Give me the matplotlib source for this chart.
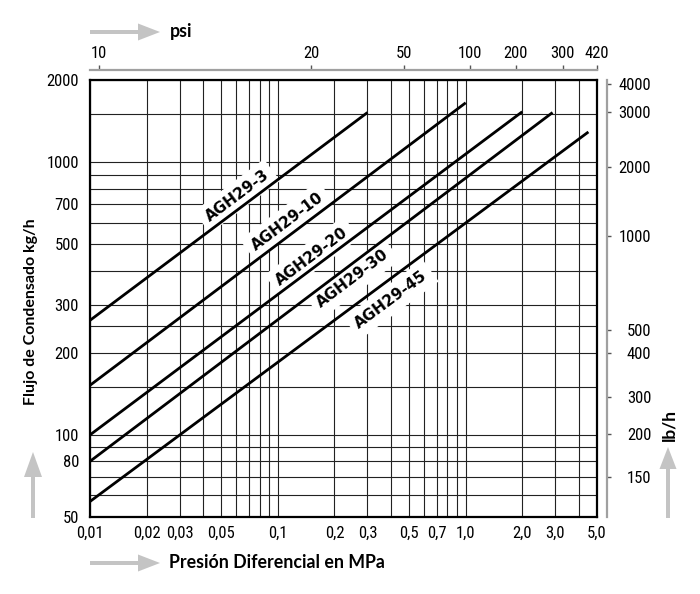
import numpy as np
import matplotlib
matplotlib.use('Agg')
from matplotlib import pyplot as plt
from matplotlib import font_manager
from matplotlib.font_manager import FontProperties
from matplotlib.patches import FancyArrow
from matplotlib.transforms import IdentityTransform
from matplotlib.ticker import FixedLocator, NullLocator, NullFormatter

# curves (straight lines on log-log paper)
models = ['AGH29-3', 'AGH29-10', 'AGH29-20', 'AGH29-30', 'AGH29-45']
p_start = [0.01, 0.01, 0.01, 0.01, 0.01]     # MPa
p_end = [0.3, 1.0, 2.0, 2.9, 4.5]             # MPa
q_start = [263, 152, 100, 80, 57]             # kg/h
q_end = [1520, 1650, 1530, 1520, 1290]        # kg/h

# where the curve names sit
label_p = [0.0606, 0.112, 0.152, 0.251, 0.401]
label_q = [750, 607, 451, 374, 313]

mpa_ticks = [0.01, 0.02, 0.03, 0.05, 0.1, 0.2, 0.3, 0.5, 0.7, 1.0, 2.0, 3.0, 5.0]
mpa_labels = ['0,01', '0,02', '0,03', '0,05', '0,1', '0,2', '0,3', '0,5', '0,7',
              '1,0', '2,0', '3,0', '5,0']
mpa_grid = [0.02, 0.03, 0.04, 0.05, 0.06, 0.07, 0.08, 0.09, 0.1,
            0.2, 0.3, 0.4, 0.5, 0.6, 0.7, 0.8, 0.9, 1.0, 2.0, 3.0, 4.0]
kgh_ticks = [50, 80, 100, 200, 300, 500, 700, 1000, 2000]
kgh_grid = [60, 70, 80, 90, 100, 150, 200, 250, 300, 400, 500, 600, 700,
            800, 900, 1000, 1500]

# secondary scales as printed on the chart
psi_labels = ['10', '20', '50', '100', '200', '300', '420']
psi_at_mpa = [0.0111, 0.151, 0.467, 1.05, 1.85, 3.29, 5.0]
lbh_labels = ['150', '200', '300', '400', '500', '1000', '2000', '3000', '4000']
lbh_at_kgh = [70, 101, 138, 200, 243, 536, 961, 1531, 1935]

# pick a narrow face for the numbers if there is one
fonts = font_manager.fontManager.ttflist
names = {f.name for f in fonts}
tick_fp = FontProperties(family='Liberation Sans', size=11)
for cand in ['Liberation Sans Narrow', 'Roboto Condensed', 'Open Sans Condensed']:
    if cand in names:
        tick_fp = FontProperties(family=cand, size=12)
        break
else:
    if any(f.name == 'DejaVu Sans' and f.stretch == 'condensed' for f in fonts):
        tick_fp = FontProperties(family='DejaVu Sans', stretch='condensed', size=11.5)
bold_font = 'Lato' if 'Lato' in names else 'DejaVu Sans'

W, H = 700, 594
fig = plt.figure(figsize=(W / 100, H / 100), dpi=100)
ax = fig.add_axes([90 / W, 77 / H, 507 / W, 437 / H])
ax.set_xscale('log')
ax.set_yscale('log')
ax.set_xlim(0.01, 5.0)
ax.set_ylim(50, 2000)

ax.xaxis.set_major_locator(FixedLocator(mpa_ticks))
ax.xaxis.set_minor_locator(FixedLocator(mpa_grid))
ax.xaxis.set_minor_formatter(NullFormatter())
ax.set_xticklabels(mpa_labels)
ax.yaxis.set_major_locator(FixedLocator(kgh_ticks))
ax.yaxis.set_minor_locator(FixedLocator(kgh_grid))
ax.yaxis.set_minor_formatter(NullFormatter())
ax.set_yticklabels([str(v) for v in kgh_ticks])
ax.tick_params(which='both', length=0)
ax.tick_params(axis='x', pad=6)
ax.tick_params(axis='y', pad=8)
for lab in ax.get_xticklabels() + ax.get_yticklabels():
    lab.set_fontproperties(tick_fp)

ax.grid(True, which='both', color='#222222', lw=0.8)
ax.set_axisbelow(True)
for s in ax.spines.values():
    s.set_linewidth(1.6)
    s.set_color('black')

fig.canvas.draw()
for name, p0, p1, q0, q1, lp, lq in zip(models, p_start, p_end, q_start, q_end, label_p, label_q):
    ax.plot([p0, p1], [q0, q1], color='black', lw=2.0, zorder=4, solid_capstyle='butt')
    a = ax.transData.transform((p0, q0))
    b = ax.transData.transform((p1, q1))
    angle = np.degrees(np.arctan2(b[1] - a[1], b[0] - a[0]))
    ax.text(lp, lq, name, rotation=angle, rotation_mode='anchor', ha='center', va='center',
            fontfamily='DejaVu Sans', fontweight='bold', fontsize=11, zorder=3,
            bbox=dict(boxstyle='square,pad=0.4', fc='white', ec='none'))

grey = '#a0a0a0'
top = ax.secondary_xaxis('top')
top.xaxis.set_major_locator(FixedLocator(psi_at_mpa))
top.xaxis.set_minor_locator(NullLocator())
top.set_xticklabels(psi_labels)
top.spines['top'].set_position(('outward', 7))
top.spines['top'].set_color(grey)
top.spines['top'].set_linewidth(1.6)
top.tick_params(axis='x', which='major', length=3.5, width=1, color='#555555', pad=3)
for lab in top.get_xticklabels():
    lab.set_fontproperties(tick_fp)

right = ax.secondary_yaxis('right')
right.yaxis.set_major_locator(FixedLocator(lbh_at_kgh))
right.yaxis.set_minor_locator(NullLocator())
right.set_yticklabels(lbh_labels)
right.spines['right'].set_position(('outward', 7))
right.spines['right'].set_color(grey)
right.spines['right'].set_linewidth(1.6)
right.tick_params(axis='y', which='major', length=3, width=1, color='#555555', pad=29)
for lab in right.get_yticklabels():
    lab.set_fontproperties(tick_fp)
    lab.set_ha('right')


def arrow(x0, y0, x1, y1, head_len=22, head_w=17):
    # figure pixels, measured from the top-left like the reference
    fig.add_artist(FancyArrow(x0, H - y0, x1 - x0, -(y1 - y0), width=4, head_width=head_w,
                              head_length=head_len, length_includes_head=True,
                              color='#c4c4c4', ec='none', transform=IdentityTransform()))


arrow(90, 32, 160, 32)
arrow(90, 563, 160, 563)
arrow(33, 518, 33, 452, head_len=25, head_w=18)
arrow(668, 518, 668, 447, head_len=22, head_w=17)

fig.text(170 / W, 1 - 32 / H, 'psi', ha='left', va='center',
         fontfamily=bold_font, fontweight='bold', fontsize=12.8)
fig.text(169 / W, 1 - 563 / H, 'Presión Diferencial en MPa', ha='left', va='center',
         fontfamily=bold_font, fontweight='bold', fontsize=12.8)
fig.text(31 / W, 1 - 312 / H, 'Flujo de Condensado kg/h', rotation=90, ha='center', va='center',
         fontfamily=bold_font, fontweight='bold', fontsize=11.5)
fig.text(669 / W, 1 - 425 / H, 'lb/h', rotation=90, ha='center', va='center',
         fontfamily=bold_font, fontweight='bold', fontsize=12.5)

fig.savefig('out.png', dpi=100)
